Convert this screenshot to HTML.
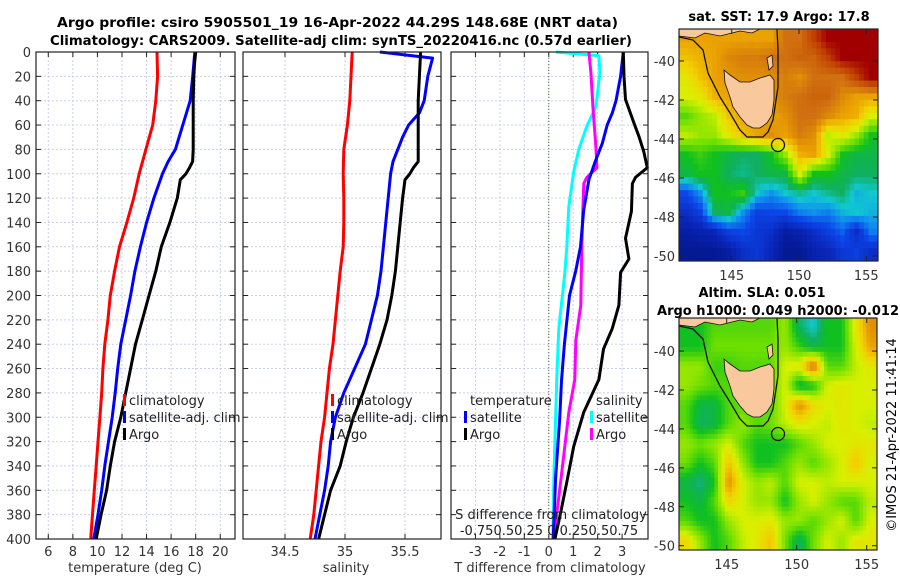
<!DOCTYPE html>
<html><head><meta charset="utf-8"><style>
html,body{margin:0;padding:0;background:#fff;}
svg{display:block;font-family:"DejaVu Sans","Liberation Sans",sans-serif;}
</style></head><body>
<svg id="fig" width="900" height="580" viewBox="0 0 900 580" xmlns="http://www.w3.org/2000/svg">
<text x="57" y="27" font-size="13" font-weight="bold" textLength="561" lengthAdjust="spacingAndGlyphs">Argo profile: csiro 5905501_19 16-Apr-2022 44.29S 148.68E (NRT data)</text>
<text x="50" y="45" font-size="13" font-weight="bold" textLength="582" lengthAdjust="spacingAndGlyphs">Climatology: CARS2009. Satellite-adj clim: synTS_20220416.nc (0.57d earlier)</text>
<text x="779" y="21" font-size="13" font-weight="bold" text-anchor="middle">sat. SST: 17.9 Argo: 17.8</text>
<text x="762" y="297" font-size="13" font-weight="bold" text-anchor="middle">Altim. SLA: 0.051</text>
<text x="657" y="315" font-size="13" font-weight="bold" textLength="242" lengthAdjust="spacingAndGlyphs">Argo h1000: 0.049 h2000: -0.012</text>
<text x="0" y="0" font-size="13" text-anchor="middle" transform="translate(896,435) rotate(-90)">©IMOS 21-Apr-2022 11:41:14</text>
<g id="maps"></g>
<g id="plots"></g>
</svg>
<script>
// ---- data ----
const tempClimD = [0,20,40,60,80,100,120,140,160,180,200,220,240,260,280,300,320,340,360,380,400];
const tempClim = [14.85,14.9,14.75,14.5,13.95,13.4,12.95,12.4,11.8,11.4,11.05,10.85,10.6,10.45,10.35,10.2,10.05,9.9,9.75,9.6,9.45];
const tempSatD = [0,20,40,60,80,90,100,120,140,160,180,200,220,240,260,280,300,320,340,360,380,400];
const tempSat = [17.93,17.76,17.55,16.95,16.35,15.75,15.3,14.6,14.0,13.5,13.05,12.7,12.3,11.9,11.65,11.45,11.2,10.9,10.6,10.35,10.05,9.7];
const tempArgoD = [0,10,20,40,60,80,90,95,100,105,120,140,160,180,200,220,240,260,280,300,320,340,360,380,400];
const tempArgo = [18.0,17.9,17.85,17.8,17.8,17.8,17.75,17.5,17.2,16.75,16.5,15.9,15.2,14.75,14.2,13.65,13.1,12.7,12.3,11.9,11.4,11.05,10.75,10.3,9.9];
const salClim = [35.06,35.05,35.04,35.02,34.99,34.985,34.99,34.99,34.985,34.96,34.94,34.92,34.9,34.87,34.85,34.83,34.8,34.78,34.76,34.74,34.71];
const salSatD = [0,5,20,40,50,60,70,80,90,100,120,140,160,180,200,220,240,260,280,300,320,340,360,380,400];
const salSat = [35.29,35.73,35.69,35.66,35.62,35.53,35.48,35.44,35.4,35.38,35.36,35.34,35.32,35.3,35.27,35.22,35.17,35.08,34.99,34.92,34.88,34.86,34.83,34.79,34.75];
const salArgoD = [0,20,40,60,80,90,95,100,105,120,140,160,180,200,220,240,260,280,300,320,340,360,380,400];
const salArgo = [35.63,35.62,35.61,35.61,35.61,35.61,35.57,35.54,35.5,35.48,35.46,35.44,35.42,35.39,35.35,35.29,35.22,35.15,35.07,35.01,34.96,34.88,34.83,34.78];
const dTSatD = [0,20,40,50,60,75,90,105,130,160,180,200,240,270,300,350,400];
const dTSat = [3.05,2.94,2.75,2.6,2.39,2.19,1.9,1.64,1.43,1.3,1.1,0.85,0.64,0.52,0.45,0.28,0.18];
const dTArgoD = [0,20,39,58,70,82,95,103,108,131,153,170,181,208,227,244,269,296,324,352,379,400];
const dTArgo = [3.05,3.08,3.14,3.48,3.7,3.89,4.03,3.55,3.42,3.38,3.14,3.28,2.94,2.87,2.6,2.24,2.05,1.43,1.02,0.75,0.48,0.25];
const dSSatD = [0,3,17,45,61,80,98,127,160,182,227,267,352,400];
const dSSat = [0.07,0.5,0.51,0.47,0.38,0.30,0.25,0.2,0.18,0.16,0.1,0.08,0.05,0.04];
const dSArgoD = [0,17,45,78,95,103,108,131,160,208,237,269,296,324,352,379,400];
const dSArgo = [0.4,0.42,0.44,0.47,0.48,0.38,0.35,0.34,0.33,0.32,0.27,0.26,0.2,0.16,0.12,0.08,0.05];
const depthTicks = [0,20,40,60,80,100,120,140,160,180,200,220,240,260,280,300,320,340,360,380,400];
const tempTicks = [6,8,10,12,14,16,18,20];
const salTicks = [34.5,35,35.5];
const dTTicks = [-3,-2,-1,0,1,2,3];
const sstGrid = [
[0.72,0.72,0.72,0.72,0.72,0.72,0.72,0.8,0.8,0.88,0.95,0.95,0.95,0.95],
[0.68,0.7,0.72,0.76,0.78,0.78,0.8,0.8,0.82,0.82,0.88,0.95,0.95,0.95],
[0.62,0.68,0.72,0.74,0.75,0.75,0.75,0.78,0.75,0.8,0.8,0.8,0.88,0.95],
[0.6,0.62,0.7,0.72,0.75,0.75,0.75,0.78,0.8,0.82,0.82,0.76,0.72,0.72],
[0.5,0.55,0.58,0.68,0.72,0.72,0.72,0.75,0.8,0.8,0.76,0.72,0.7,0.6],
[0.58,0.55,0.55,0.62,0.68,0.72,0.75,0.72,0.78,0.75,0.58,0.62,0.55,0.45],
[0.45,0.48,0.45,0.42,0.4,0.4,0.45,0.55,0.7,0.72,0.6,0.45,0.42,0.42],
[0.42,0.45,0.45,0.4,0.38,0.4,0.42,0.42,0.6,0.45,0.45,0.42,0.4,0.4],
[0.22,0.3,0.45,0.45,0.48,0.35,0.3,0.35,0.38,0.35,0.38,0.4,0.33,0.35],
[0.15,0.2,0.4,0.42,0.3,0.2,0.22,0.22,0.28,0.3,0.28,0.33,0.35,0.33],
[0.08,0.1,0.12,0.2,0.22,0.18,0.15,0.08,0.1,0.15,0.2,0.25,0.15,0.28],
[0.05,0.05,0.05,0.08,0.15,0.18,0.12,0.05,0.05,0.1,0.12,0.18,0.2,0.15]];
const slaGrid = [
[0.45,0.45,0.5,0.5,0.5,0.5,0.5,0.55,0.4,0.35,0.45,0.45,0.62,0.75],
[0.45,0.45,0.52,0.52,0.52,0.52,0.52,0.55,0.48,0.42,0.45,0.45,0.6,0.72],
[0.55,0.55,0.48,0.48,0.5,0.5,0.5,0.6,0.62,0.8,0.5,0.5,0.58,0.62],
[0.55,0.52,0.5,0.5,0.5,0.5,0.5,0.6,0.42,0.45,0.6,0.62,0.6,0.6],
[0.5,0.42,0.42,0.5,0.5,0.5,0.5,0.6,0.75,0.65,0.6,0.62,0.6,0.6],
[0.5,0.4,0.42,0.5,0.55,0.5,0.52,0.58,0.62,0.6,0.58,0.62,0.6,0.58],
[0.55,0.52,0.55,0.6,0.5,0.45,0.45,0.45,0.5,0.55,0.6,0.6,0.62,0.62],
[0.52,0.45,0.5,0.68,0.55,0.45,0.45,0.5,0.55,0.5,0.55,0.6,0.68,0.6],
[0.42,0.38,0.45,0.75,0.6,0.55,0.58,0.5,0.6,0.6,0.58,0.6,0.6,0.6],
[0.45,0.42,0.5,0.65,0.6,0.55,0.55,0.45,0.55,0.6,0.55,0.5,0.5,0.58],
[0.5,0.45,0.45,0.55,0.6,0.6,0.62,0.55,0.55,0.5,0.55,0.6,0.5,0.6],
[0.65,0.55,0.45,0.5,0.58,0.62,0.68,0.52,0.4,0.52,0.6,0.55,0.62,0.62]];
const latTicks = [-40,-42,-44,-46,-48,-50];
const lonTicks = [145,150,155];

// ---- helpers ----
const NS='http://www.w3.org/2000/svg';
const root=document.getElementById('plots');
const mapRoot=document.getElementById('maps');
function el(tag,attrs,parent){const e=document.createElementNS(NS,tag);for(const k in attrs)e.setAttribute(k,attrs[k]);(parent||root).appendChild(e);return e;}
const yTop=52,yBot=539,dMax=400;
const yD=d=>yTop+(yBot-yTop)*d/dMax;
function lin(a0,a1,p0,p1){return v=>p0+(v-a0)*(p1-p0)/(a1-a0);}

const panels=[
 {name:'temperature',x0:36,x1:235,xs:lin(5,21.2,36,235),ticks:tempTicks,label:'temperature (deg C)',lx:135},
 {name:'salinity',x0:243,x1:441,xs:lin(34.15,35.8,243,441),ticks:salTicks,label:'salinity',lx:346},
 {name:'difference',x0:451,x1:648,xs:lin(-4,4.06,451,648),ticks:dTTicks,label:'T difference from climatology',lx:550}
];
panels.forEach((p,pi)=>{
 const g=el('g',{});
 
 
 p.ticks.forEach(t=>{const x=p.xs(t);
  const l=el('line',{x1:x,x2:x,y1:yTop,y2:yBot,stroke:'#c9d0ee','stroke-width':1,'stroke-dasharray':'2,2'},g);
  
  
  el('line',{x1:x,x2:x,y1:yBot,y2:yBot-5,stroke:'#222'},g);
  el('line',{x1:x,x2:x,y1:yTop,y2:yTop+5,stroke:'#222'},g);
  const tx=el('text',{x:x,y:yBot+17,'font-size':13,'text-anchor':'middle',fill:'#333'},g);
  
  
  tx.textContent=String(t);
 });
 depthTicks.forEach(d=>{const y=yD(d);
  if(d>0&&d<400){const l=el('line',{x1:p.x0,x2:p.x1,y1:y,y2:y,stroke:'#c9d0ee','stroke-width':1,'stroke-dasharray':'2,2'},g);
   
   }
  el('line',{x1:p.x0,x2:p.x0+5,y1:y,y2:y,stroke:'#222'},g);
  el('line',{x1:p.x1,x2:p.x1-5,y1:y,y2:y,stroke:'#222'},g);
  if(pi===0){const tx=el('text',{x:31,y:y+5,'font-size':13,'text-anchor':'end',fill:'#333'},g);
   
   
   tx.textContent=String(d);}
 });
 const xl=el('text',{x:p.lx,y:572,'font-size':13,'text-anchor':'middle',fill:'#333'},g);
 
 
 xl.textContent=p.label;
 p.g=g;
});
function series(p,ds,vs,color,name,conv){
 const pts=ds.map((d,i)=>(p.xs(conv?conv(vs[i]):vs[i])).toFixed(1)+','+yD(d).toFixed(1)).join(' ');
 const l=el('polyline',{points:pts,fill:'none',stroke:color,'stroke-width':3,'stroke-linejoin':'round'},p.g);
 
 
}
const P=panels;
const zl=el('line',{x1:P[2].xs(0),x2:P[2].xs(0),y1:yTop,y2:yBot,stroke:'#556b2f','stroke-width':1,'stroke-dasharray':'1,2'},P[2].g);


series(P[0],tempClimD,tempClim,'#ff0000','temp-climatology-line');
series(P[0],tempSatD,tempSat,'#0000ff','temp-satellite-line');
series(P[0],tempArgoD,tempArgo,'#000','temp-argo-line');
series(P[1],tempClimD,salClim,'#ff0000','sal-climatology-line');
series(P[1],salSatD,salSat,'#0000ff','sal-satellite-line');
series(P[1],salArgoD,salArgo,'#000','sal-argo-line');
const sConv=s=>s*4.1;
series(P[2],dSSatD,dSSat,'#00ffff','sal-diff-satellite-line',sConv);
series(P[2],dSArgoD,dSArgo,'#ff00ff','sal-diff-argo-line',sConv);
series(P[2],dTSatD,dTSat,'#0000ff','temp-diff-satellite-line');
series(P[2],dTArgoD,dTArgo,'#000','temp-diff-argo-line');
panels.forEach(p=>{el('rect',{x:p.x0,y:yTop,width:p.x1-p.x0,height:yBot-yTop,fill:'none',stroke:'#222','stroke-width':1.2},p.g);});
function legendItem(g,x,y,color,txt,name){
 if(color){const m=el('rect',{x:x-6,y:y-11,width:3,height:12,fill:color},g);
  
  }
 const t=el('text',{x:x,y:y,'font-size':13,fill:'#222'},g);
 
 
 t.textContent=txt;
}
[[0,129],[1,337]].forEach(([pi,x])=>{
 legendItem(P[pi].g,x,405,'#ff0000','climatology','legend-climatology');
 legendItem(P[pi].g,x,422,'#0000ff','satellite-adj. clim','legend-satellite');
 legendItem(P[pi].g,x,439,'#000','Argo','legend-argo');
});
legendItem(P[2].g,470,405,null,'temperature','legend-temperature-header');
legendItem(P[2].g,470,422,'#0000ff','satellite','legend-temp-satellite');
legendItem(P[2].g,470,439,'#000','Argo','legend-temp-argo');
legendItem(P[2].g,596,405,null,'salinity','legend-salinity-header');
legendItem(P[2].g,596,422,'#00ffff','satellite','legend-sal-satellite');
legendItem(P[2].g,596,439,'#ff00ff','Argo','legend-sal-argo');
const sdt=el('text',{x:551,y:519,'font-size':13,'text-anchor':'middle',fill:'#222'},P[2].g);


sdt.textContent='S difference from climatology';
const sdl=el('text',{x:549,y:535,'font-size':13,'text-anchor':'middle',fill:'#222'},P[2].g);


sdl.textContent='-0.750.50.25 0 0.250.50.75';

// ---- maps ----
const stops=[[0,'#00107a'],[0.12,'#0a25b8'],[0.22,'#0c45e8'],[0.3,'#1090f0'],[0.35,'#10c8d0'],[0.4,'#10b060'],[0.45,'#10c020'],[0.52,'#70e000'],[0.6,'#d8f000'],[0.66,'#f2d200'],[0.72,'#eaa200'],[0.8,'#d07010'],[0.88,'#c04000'],[0.95,'#a00000'],[1,'#900000']];
function hex(h){return [1,3,5].map(i=>parseInt(h.substr(i,2),16));}
function cmap(v){for(let i=1;i<stops.length;i++){if(v<=stops[i][0]){const a=stops[i-1],b=stops[i];const t=(v-a[0])/(b[0]-a[0]);const ca=hex(a[1]),cb=hex(b[1]);return 'rgb('+ca.map((c,k)=>Math.round(c+(cb[k]-c)*t)).join(',')+')';}}return stops[stops.length-1][1];}
function sample(grid,fr,fc){
 const R=grid.length,C=grid[0].length;
 const r=Math.max(0,Math.min(R-1,fr)),c=Math.max(0,Math.min(C-1,fc));
 const r0=Math.floor(r),c0=Math.floor(c),r1=Math.min(R-1,r0+1),c1=Math.min(C-1,c0+1);
 const tr=r-r0,tc=c-c0;
 return grid[r0][c0]*(1-tr)*(1-tc)+grid[r0][c1]*(1-tr)*tc+grid[r1][c0]*tr*(1-tc)+grid[r1][c1]*tr*tc;
}
function drawMap(name,grid,x0,y0,w,h,dy,lonX,latY,sub){
 const g=el('g',{},mapRoot);
 
 
 const rows=grid.length,cols=grid[0].length;
 const NR=rows*sub,NC=cols*sub,cw=w/NC,ch=h/NR;
 for(let r=0;r<NR;r++)for(let c=0;c<NC;c++){
  const v=sample(grid,(r+0.5)/sub-0.5,(c+0.5)/sub-0.5);
  const cell=el('rect',{x:(x0+c*cw).toFixed(2),y:(y0+r*ch).toFixed(2),width:(cw+0.5).toFixed(2),height:(ch+0.5).toFixed(2),fill:cmap(v)},g);
  
  
 }
 const sh=(pts)=>pts.map(p=>p[0]+','+(p[1]+dy)).join(' ');
 const vic=el('polygon',{points:sh([[679,29],[760,29],[752,33],[740,31],[720,36],[705,33],[695,38],[679,36]]),fill:'#f9c89c',stroke:'#111','stroke-width':0.8},g);
 
 
 const tas=el('polygon',{points:sh([[724,70],[730,75],[740,82],[750,82],[760,78],[770,75],[774,80],[774,100],[772,115],[767,123],[760,128],[753,128],[747,125],[740,117],[733,107],[730,97],[725,83]]),fill:'#f9c89c',stroke:'#111','stroke-width':0.8},g);
 
 
 const fl=el('polygon',{points:sh([[767,58],[772,55],[773,66],[769,70]]),fill:'#f9c89c',stroke:'#111','stroke-width':0.8},g);
 
 
 const cont=el('polyline',{points:sh([[679,37],[693,40],[703,50],[708,73],[720,97],[730,113],[740,130],[747,137],[763,137],[768,132],[773,120],[778,87],[778,50],[777,29]]),fill:'none',stroke:'#111','stroke-width':1.3},g);
 
 
 const circ=el('circle',{cx:778,cy:145+dy,r:6.5,fill:'none',stroke:'#111','stroke-width':1.3},g);
 
 
 el('rect',{x:x0,y:y0,width:w,height:h,fill:'none',stroke:'#222','stroke-width':1.2},g);
 latTicks.forEach(t=>{const y=latY(t);
  el('line',{x1:x0,x2:x0+5,y1:y,y2:y,stroke:'#222'},g);
  el('line',{x1:x0+w,x2:x0+w-5,y1:y,y2:y,stroke:'#222'},g);
  const tx=el('text',{x:x0-4,y:y+5,'font-size':13,'text-anchor':'end',fill:'#333'},g);
  
  
  tx.textContent=String(t);
 });
 lonTicks.forEach(t=>{const x=lonX(t);
  el('line',{x1:x,x2:x,y1:y0+h,y2:y0+h-5,stroke:'#222'},g);
  el('line',{x1:x,x2:x,y1:y0,y2:y0+5,stroke:'#222'},g);
  const tx=el('text',{x:x,y:y0+h+19,'font-size':13,'text-anchor':'middle',fill:'#333'},g);
  
  
  tx.textContent=String(t);
 });
}
drawMap('sst-map',sstGrid,679,29,199,232,0,lin(145,150,731.7,799),lin(-40,-50,61,256),3);
drawMap('sla-map',slaGrid,679,318,198,232,289,lin(145,150,726.7,796.7),lin(-42,-50,390,545.7),4);
</script>
</body></html>
